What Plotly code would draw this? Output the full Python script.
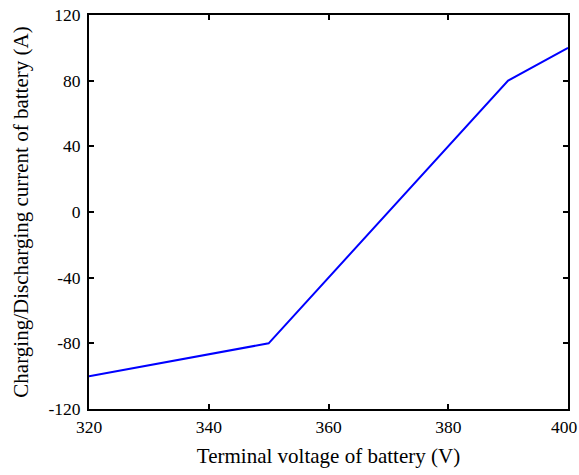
import plotly.graph_objects as go

voltage = [320, 350, 390, 400]
current = [-100, -80, 80, 100]
x_ticks = [320, 340, 360, 380, 400]
y_ticks = [-120, -80, -40, 0, 40, 80, 120]

fig = go.Figure()
fig.add_trace(go.Scatter(x=voltage, y=current, mode="lines",
                         line=dict(color="#0000ff", width=2), showlegend=False))

font = dict(family="Liberation Serif, Times New Roman, serif", color="black")
tick_size = 17.5
axis_common = dict(showgrid=False, zeroline=False, showline=True, linecolor="black",
                   linewidth=2, mirror="ticks", ticks="inside", ticklen=5,
                   tickwidth=1.5, tickcolor="black", tickfont=dict(size=tick_size, **font),
                   automargin=False, ticklabeloverflow="allow")
# the last x label sits at the page edge; it is drawn as an annotation nudged inward
x_text = [str(v) for v in x_ticks]
x_text[-1] = ""
fig.update_xaxes(range=[320, 400], tickvals=x_ticks, ticktext=x_text,
                 ticklabelstandoff=1,
                 title=dict(text="Terminal voltage of battery (V)", font=dict(size=21, **font), standoff=12),
                 **axis_common)
fig.update_yaxes(range=[-120, 120], tickvals=y_ticks, ticktext=[str(v) for v in y_ticks],
                 ticklabelstandoff=3,
                 title=dict(text="Charging/Discharging current of battery (A)", font=dict(size=21, **font), standoff=14),
                 **axis_common)
fig.add_annotation(x=x_ticks[-1], xref="x", y=0, yref="paper", text=str(x_ticks[-1]),
                   showarrow=False, xanchor="right", yanchor="middle", xshift=11, yshift=-18,
                   font=dict(size=tick_size, **font), borderpad=0)
fig.update_layout(width=579, height=475, plot_bgcolor="white", paper_bgcolor="white",
                  margin=dict(l=89, r=11, t=15, b=66), font=font)
fig.write_html("out.html")
